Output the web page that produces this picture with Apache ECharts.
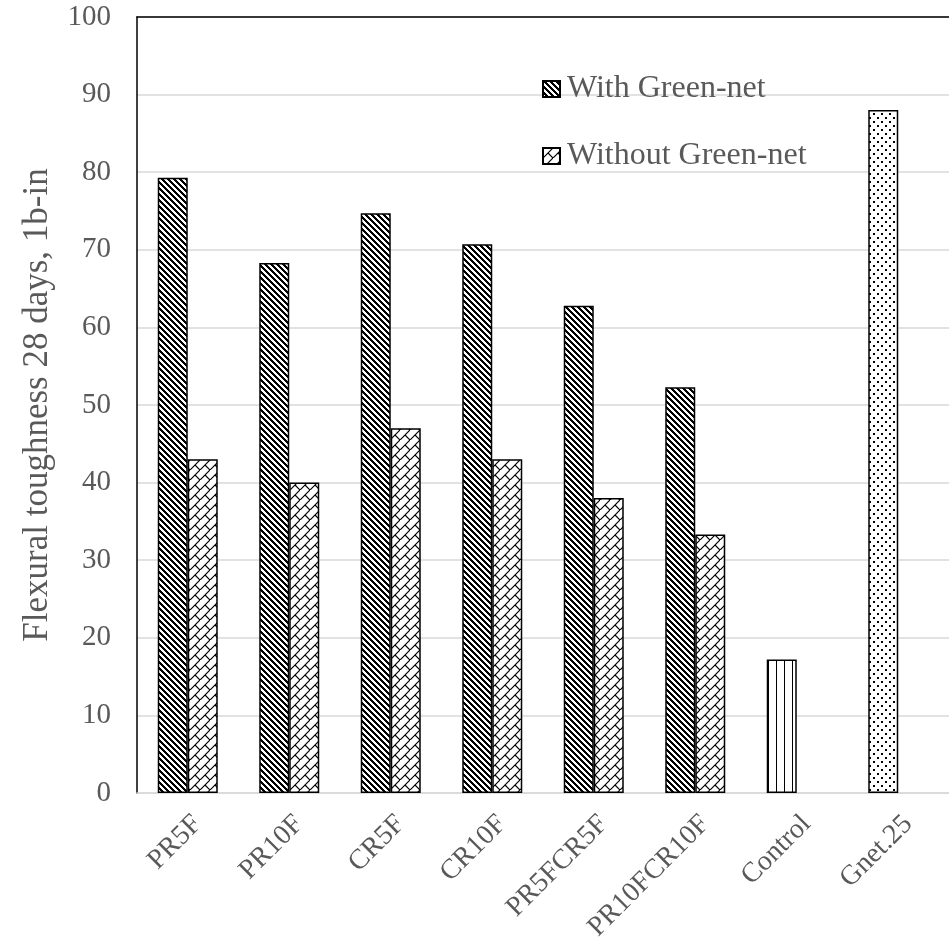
<!DOCTYPE html>
<html>
<head>
<meta charset="utf-8">
<script src="https://cdn.jsdelivr.net/npm/echarts@6/dist/echarts.min.js"></script>
<style>html,body{margin:0;padding:0;background:#fff}#c{width:949px;height:949px}</style>
</head>
<body>
<div id="c"></div>
<script>
const categories = ['PR5F','PR10F','CR5F','CR10F','PR5FCR5F','PR10FCR10F','Control','Gnet.25'];
const withGreenNet = [79.3, 68.3, 74.7, 70.7, 62.8, 52.3, 17.2, 88];
const withoutGreenNet = [43, 40, 47, 43, 38, 33.3, null, null];
const yTicks = { min: 0, max: 100, interval: 10 };

function makeTile(w, h, draw) {
  const c = document.createElement('canvas');
  c.width = w; c.height = h;
  const g = c.getContext('2d');
  g.fillStyle = '#fff'; g.fillRect(0, 0, w, h);
  g.fillStyle = '#000'; g.strokeStyle = '#000';
  draw(g, w, h);
  return { image: c, repeat: 'repeat' };
}
// wide downward diagonal
const patWith = makeTile(6, 6, (g) => {
  for (let y = 0; y < 6; y++) for (let x = 0; x < 6; x++) {
    if ((((x - y) % 6) + 6) % 6 < 3) g.fillRect(x, y, 1, 1);
  }
});
// diagonal brick
const patWithout = makeTile(10, 10, (g) => {
  g.lineWidth = 1.2;
  g.beginPath();
  g.moveTo(-1, 11); g.lineTo(11, -1);
  g.moveTo(5, 5); g.lineTo(11, 11);
  g.stroke();
});
// vertical lines
const patControl = makeTile(8, 4, (g) => { g.fillRect(0, 0, 1, 4); });
// dots
const patDots = makeTile(8, 8, (g) => { g.fillRect(1, 1, 2, 2); g.fillRect(5, 5, 2, 2); });

const font = 'Liberation Serif';
const gray = '#595959';

const withData = withGreenNet.map((v, i) => {
  if (categories[i] === 'Control') return { value: v, itemStyle: { color: patControl } };
  if (categories[i] === 'Gnet.25') return { value: v, itemStyle: { color: patDots } };
  return v;
});

const chart = echarts.init(document.getElementById('c'), null, { renderer: 'canvas' });
chart.setOption({
  animation: false,
  backgroundColor: '#fff',
  grid: { left: 137, top: 17, width: 822, height: 776 },
  legend: {
    orient: 'vertical', left: 537, top: 68,
    icon: 'rect',
    itemWidth: 17, itemHeight: 16, itemGap: 35,
    textStyle: { fontFamily: font, fontSize: 32, color: gray, padding: [0, 0, 0, 2] },
    data: ['With Green-net', 'Without Green-net']
  },
  xAxis: [{
    type: 'category', data: categories,
    axisLine: { lineStyle: { color: '#d9d9d9', width: 1.5 } },
    axisTick: { show: false },
    axisLabel: { rotate: 45, fontFamily: font, fontSize: 28, color: gray, margin: 17, interval: 0,
                 align: 'right', verticalAlign: 'top' }
  }, {
    type: 'category', data: categories, position: 'top',
    axisLine: { lineStyle: { color: '#000', width: 1.5 } },
    axisTick: { show: false }, axisLabel: { show: false }
  }],
  yAxis: {
    type: 'value', min: yTicks.min, max: yTicks.max, interval: yTicks.interval,
    name: 'Flexural toughness 28 days, 1b-in',
    nameLocation: 'middle', nameGap: 82,
    nameTextStyle: { fontFamily: font, fontSize: 35, color: gray },
    axisLine: { show: true, lineStyle: { color: '#000', width: 1.5 } },
    axisTick: { show: false },
    axisLabel: { fontFamily: font, fontSize: 29, color: gray, margin: 26 },
    splitLine: { lineStyle: { color: '#d9d9d9', width: 1.5 } }
  },
  series: [{
    name: 'With Green-net', type: 'bar', data: withData,
    barWidth: 30, barGap: '0%',
    itemStyle: { color: patWith, borderColor: '#000', borderWidth: 1.5 }
  }, {
    name: 'Without Green-net', type: 'bar', data: withoutGreenNet,
    barWidth: 30, barGap: '0%',
    itemStyle: { color: patWithout, borderColor: '#000', borderWidth: 1.5 }
  }]
});
</script>
</body>
</html>
